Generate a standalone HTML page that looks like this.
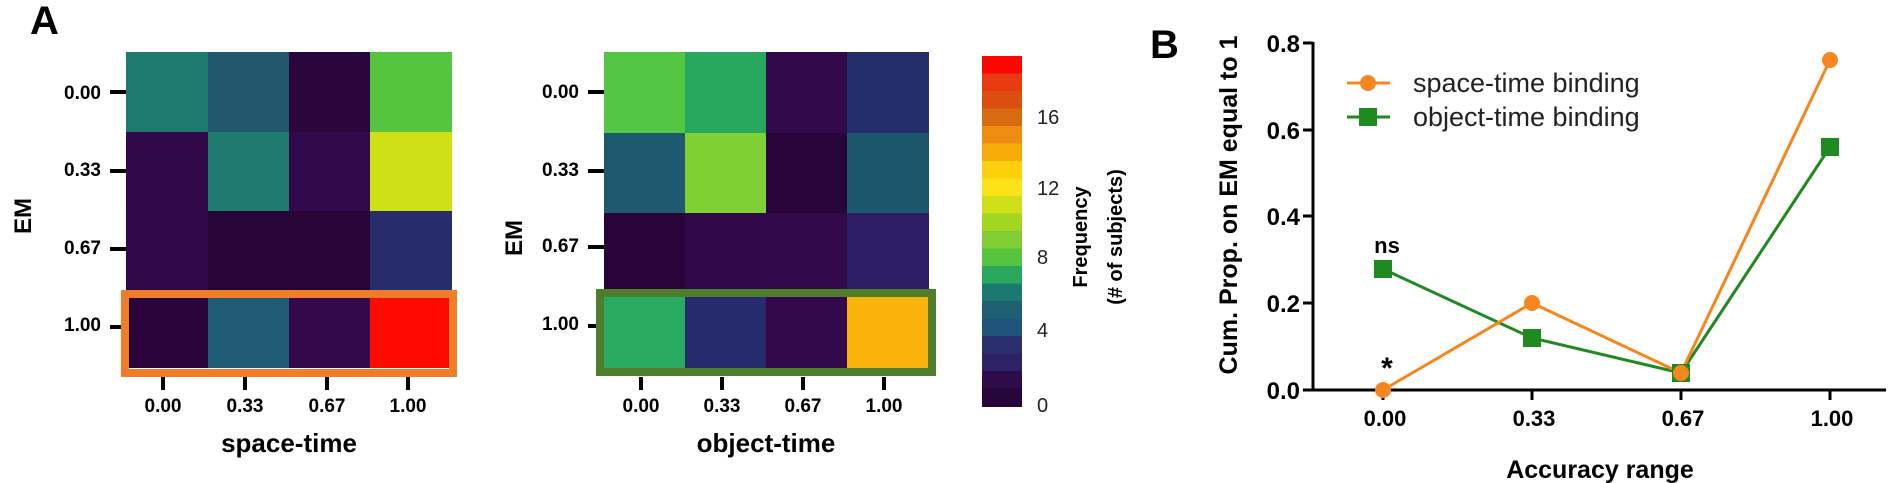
<!DOCTYPE html>
<html><head><meta charset="utf-8"><style>
html,body{margin:0;padding:0;background:#fff;}
svg{display:block;font-family:"Liberation Sans",Arial,sans-serif;}
.b{font-weight:bold;}
</style></head><body>
<svg width="1895" height="483" viewBox="0 0 1895 483" xmlns="http://www.w3.org/2000/svg">
<text x="30" y="34" font-size="40" class="b">A</text>

<g>
<rect x="126" y="52" width="82" height="80" fill="#1f7a6e"/>
<rect x="208" y="52" width="81" height="80" fill="#22576e"/>
<rect x="289" y="52" width="81" height="80" fill="#2b063d"/>
<rect x="370" y="52" width="82" height="80" fill="#55c53f"/>
<rect x="126" y="132" width="82" height="79" fill="#31094a"/>
<rect x="208" y="132" width="81" height="79" fill="#207a6e"/>
<rect x="289" y="132" width="81" height="79" fill="#32094a"/>
<rect x="370" y="132" width="82" height="79" fill="#cfe016"/>
<rect x="126" y="211" width="82" height="79" fill="#30094a"/>
<rect x="208" y="211" width="81" height="79" fill="#270536"/>
<rect x="289" y="211" width="81" height="79" fill="#270536"/>
<rect x="370" y="211" width="82" height="79" fill="#262c6c"/>
<rect x="126" y="290" width="82" height="78" fill="#2a053c"/>
<rect x="208" y="290" width="81" height="78" fill="#205c74"/>
<rect x="289" y="290" width="81" height="78" fill="#33094b"/>
<rect x="370" y="290" width="82" height="78" fill="#ff0a00"/>
<rect x="125" y="294" width="328" height="79" fill="none" stroke="#f07d28" stroke-width="8"/>
</g>
<g stroke="#000" stroke-width="4">
<line x1="110" y1="92" x2="126" y2="92"/><line x1="110" y1="171" x2="126" y2="171"/>
<line x1="110" y1="249" x2="126" y2="249"/><line x1="110" y1="327" x2="121" y2="327"/>
<line x1="163" y1="377" x2="163" y2="390"/><line x1="245" y1="377" x2="245" y2="390"/>
<line x1="327" y1="377" x2="327" y2="390"/><line x1="408" y1="377" x2="408" y2="390"/>
</g>
<g font-size="19" class="b" text-anchor="end">
<text x="101" y="99">0.00</text><text x="101" y="176">0.33</text>
<text x="101" y="254">0.67</text><text x="101" y="331">1.00</text>
</g>
<g font-size="19" class="b" text-anchor="middle">
<text x="163" y="412">0.00</text><text x="245" y="412">0.33</text>
<text x="327" y="412">0.67</text><text x="408" y="412">1.00</text>
</g>
<text x="289" y="452" font-size="26" class="b" text-anchor="middle">space-time</text>
<text transform="translate(31,216) rotate(-90)" font-size="24" class="b" text-anchor="middle">EM</text>

<g>
<rect x="604" y="52" width="81" height="81" fill="#53c643"/>
<rect x="685" y="52" width="81" height="81" fill="#28a85e"/>
<rect x="766" y="52" width="81" height="81" fill="#32094a"/>
<rect x="847" y="52" width="82" height="81" fill="#252d6a"/>
<rect x="604" y="133" width="81" height="80" fill="#1d5a6f"/>
<rect x="685" y="133" width="81" height="80" fill="#7fd032"/>
<rect x="766" y="133" width="81" height="80" fill="#28053a"/>
<rect x="847" y="133" width="82" height="80" fill="#1b566c"/>
<rect x="604" y="213" width="81" height="77" fill="#28043a"/>
<rect x="685" y="213" width="81" height="77" fill="#31094a"/>
<rect x="766" y="213" width="81" height="77" fill="#32094a"/>
<rect x="847" y="213" width="82" height="77" fill="#2d1d66"/>
<rect x="604" y="290" width="81" height="80" fill="#29aa60"/>
<rect x="685" y="290" width="81" height="80" fill="#252b6c"/>
<rect x="766" y="290" width="81" height="80" fill="#33094b"/>
<rect x="847" y="290" width="82" height="80" fill="#f8b40a"/>
<rect x="600" y="293" width="332" height="79" fill="none" stroke="#4e7d2c" stroke-width="8"/>
</g>
<g stroke="#000" stroke-width="4">
<line x1="588" y1="92" x2="604" y2="92"/><line x1="588" y1="171" x2="604" y2="171"/>
<line x1="588" y1="247" x2="604" y2="247"/><line x1="588" y1="326" x2="596" y2="326"/>
<line x1="641" y1="377" x2="641" y2="390"/><line x1="722" y1="377" x2="722" y2="390"/>
<line x1="803" y1="377" x2="803" y2="390"/><line x1="884" y1="377" x2="884" y2="390"/>
</g>
<g font-size="19" class="b" text-anchor="end">
<text x="579" y="98">0.00</text><text x="579" y="176">0.33</text>
<text x="579" y="252">0.67</text><text x="579" y="330">1.00</text>
</g>
<g font-size="19" class="b" text-anchor="middle">
<text x="641" y="412">0.00</text><text x="722" y="412">0.33</text>
<text x="803" y="412">0.67</text><text x="884" y="412">1.00</text>
</g>
<text x="766" y="452" font-size="26" class="b" text-anchor="middle">object-time</text>
<text transform="translate(522,238) rotate(-90)" font-size="24" class="b" text-anchor="middle">EM</text>

<g>
<rect x="982" y="56" width="40" height="18" fill="#ff0500"/>
<rect x="982" y="73.5" width="40" height="18" fill="#e83a10"/>
<rect x="982" y="91" width="40" height="18" fill="#dc4d10"/>
<rect x="982" y="108.5" width="40" height="18" fill="#d86a12"/>
<rect x="982" y="126" width="40" height="18" fill="#ef8c12"/>
<rect x="982" y="143.5" width="40" height="18" fill="#f7ac0a"/>
<rect x="982" y="161" width="40" height="18" fill="#fcd00a"/>
<rect x="982" y="178.5" width="40" height="18" fill="#fde21a"/>
<rect x="982" y="196" width="40" height="18" fill="#d0e018"/>
<rect x="982" y="213.5" width="40" height="18" fill="#a2d622"/>
<rect x="982" y="231" width="40" height="18" fill="#80ce34"/>
<rect x="982" y="248.5" width="40" height="18" fill="#56c43f"/>
<rect x="982" y="266" width="40" height="18" fill="#2ba85e"/>
<rect x="982" y="283.5" width="40" height="18" fill="#1a7a70"/>
<rect x="982" y="301" width="40" height="18" fill="#1e5f72"/>
<rect x="982" y="318.5" width="40" height="18" fill="#1f5478"/>
<rect x="982" y="336" width="40" height="18" fill="#2a2f6e"/>
<rect x="982" y="353.5" width="40" height="18" fill="#2d2264"/>
<rect x="982" y="371" width="40" height="18" fill="#2d0c48"/>
<rect x="982" y="388.5" width="40" height="18.5" fill="#25053a"/>
</g>
<g font-size="20" fill="#222">
<text x="1037" y="124">16</text><text x="1037" y="195">12</text>
<text x="1037" y="264">8</text><text x="1037" y="337">4</text>
<text x="1037" y="412">0</text>
</g>
<text transform="translate(1087,237) rotate(-90)" font-size="20" class="b" text-anchor="middle">Frequency</text>
<text transform="translate(1122,237) rotate(-90)" font-size="20" class="b" text-anchor="middle">(# of subjects)</text>

<text x="1150" y="58" font-size="40" class="b">B</text>
<g stroke="#000" stroke-width="3">
<line x1="1313" y1="42" x2="1313" y2="391.5"/>
<line x1="1311.5" y1="390" x2="1886" y2="390"/>
<line x1="1303" y1="43" x2="1313" y2="43"/>
<line x1="1303" y1="130" x2="1313" y2="130"/>
<line x1="1303" y1="216" x2="1313" y2="216"/>
<line x1="1303" y1="303" x2="1313" y2="303"/>
<line x1="1303" y1="390" x2="1313" y2="390"/>
<line x1="1383" y1="390" x2="1383" y2="400"/>
<line x1="1532" y1="390" x2="1532" y2="400"/>
<line x1="1681" y1="390" x2="1681" y2="400"/>
<line x1="1830" y1="390" x2="1830" y2="400"/>
</g>
<g font-size="24" class="b" text-anchor="end">
<text x="1300" y="52">0.8</text><text x="1300" y="139">0.6</text>
<text x="1300" y="225">0.4</text><text x="1300" y="312">0.2</text>
<text x="1300" y="399">0.0</text>
</g>
<g font-size="22" class="b" text-anchor="middle">
<text x="1385" y="426">0.00</text><text x="1534" y="426">0.33</text>
<text x="1683" y="426">0.67</text><text x="1832" y="426">1.00</text>
</g>
<text x="1600" y="478" font-size="25" class="b" text-anchor="middle">Accuracy range</text>
<text transform="translate(1237,205) rotate(-90)" font-size="25" class="b" text-anchor="middle">Cum. Prop. on EM equal to 1</text>
<text x="1387" y="253" font-size="22" class="b" text-anchor="middle">ns</text>
<text x="1387" y="378" font-size="30" class="b" text-anchor="middle">*</text>

<polyline points="1383,269 1532,338 1681,373 1830,147" fill="none" stroke="#1f8a1f" stroke-width="3"/>
<polyline points="1383,390 1532,303 1681,373 1830,60" fill="none" stroke="#f7861f" stroke-width="3"/>
<g fill="#1f8a1f">
<rect x="1374" y="260" width="18" height="18"/><rect x="1523" y="329" width="18" height="18"/>
<rect x="1672" y="364" width="18" height="18"/><rect x="1821" y="138" width="18" height="18"/>
</g>
<g fill="#f7861f">
<circle cx="1383" cy="390" r="8"/><circle cx="1532" cy="303" r="8"/>
<circle cx="1681" cy="373" r="8"/><circle cx="1830" cy="60" r="8"/>
</g>
<line x1="1347" y1="83" x2="1390" y2="83" stroke="#f7861f" stroke-width="3"/>
<circle cx="1368" cy="83" r="8" fill="#f7861f"/>
<text x="1413" y="92" font-size="27" fill="#222">space-time binding</text>
<line x1="1347" y1="117" x2="1390" y2="117" stroke="#1f8a1f" stroke-width="3"/>
<rect x="1359" y="108" width="18" height="18" fill="#1f8a1f"/>
<text x="1413" y="126" font-size="27" fill="#222">object-time binding</text>
</svg>
</body></html>
